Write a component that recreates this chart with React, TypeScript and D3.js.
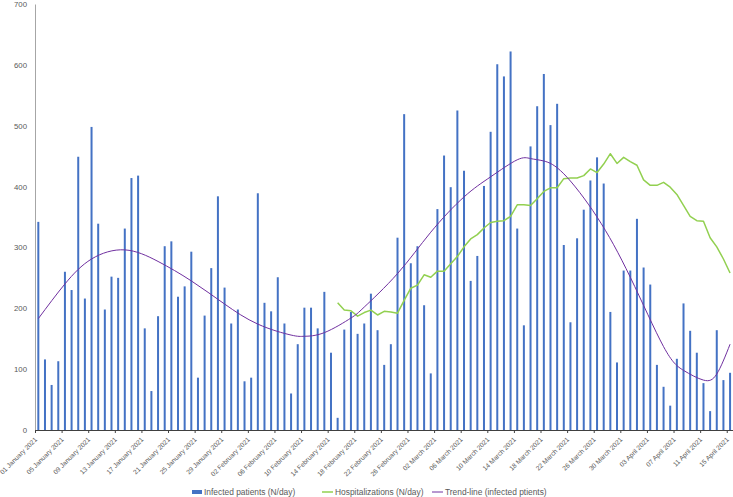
import { useEffect, useRef } from 'react';
import * as d3 from 'd3';

const WIDTH = 733;
const HEIGHT = 497;
const FONT = '"Liberation Sans", Arial, sans-serif';

const START_DATE = new Date(2021, 0, 1);
const END_DATE = new Date(2021, 3, 16); // exclusive
const days = d3.timeDay.range(START_DATE, END_DATE);

// Infected patients (N/day), 01 Jan .. 15 Apr 2021
const infected = [
  342, 116, 74, 113, 260, 230, 449, 216, 498, 339,
  198, 252, 250, 331, 414, 418, 167, 64, 187, 302,
  310, 219, 236, 293, 86, 188, 266, 384, 234, 175,
  198, 80, 86,
  389, 209, 195, 251, 175, 60, 141, 201, 201, 167,
  227, 127, 20, 165, 194, 158, 175, 224, 164, 107,
  141, 316, 519, 274, 302, 205, 93, 363, 451, 399,
  525, 426, 245, 286, 401, 490,
  601, 581, 622, 331, 172, 466, 532, 585, 501, 536,
  304, 177, 315, 362, 410, 448, 405, 194, 111, 262,
  262, 347, 267, 239, 107, 71, 40, 117, 208, 163,
  127, 77, 31, 164, 82, 94,
];

// Hospitalizations (N/day), starting 15 Feb 2021 (day index 45)
const HOSP_START = 45;
const hospitalizations = [
  209, 197, 196, 187, 193, 197, 189, 195, 194, 192,
  213, 233, 238, 255, 251, 261, 261, 273, 285, 301,
  314, 321, 332, 341, 343, 344, 351, 370, 370, 369,
  380, 392, 398, 398, 413, 414, 414, 418, 429, 423,
  437, 454, 438, 448, 441, 435, 411, 402, 402, 407,
  399, 387, 369, 351, 344, 343, 316, 301, 281, 258,
];

// Trend-line: [day index, value]
const trendDays = [0, 4, 8, 13, 18, 23, 28, 33, 38, 40, 43, 47, 49, 54, 59, 64, 68, 72, 74, 76, 79, 84, 89, 94, 97, 100, 102, 104];
const trendValues = [183, 240, 281, 296, 277, 245, 207, 174, 156, 154, 160, 184, 202, 257, 325, 383, 416, 444, 446, 442, 421, 350, 251, 137, 98, 82, 92, 141];

const yTicks = [0, 100, 200, 300, 400, 500, 600, 700];

const BAR_COLOR = '#4472C4';
const HOSP_COLOR = '#92D050';
const TREND_COLOR = '#7030A0';
const TEXT_COLOR = '#595959';

export default function App() {
  const svgRef = useRef<SVGSVGElement>(null);

  useEffect(() => {
    if (!svgRef.current) return;
    const svg = d3.select(svgRef.current);
    svg.selectAll('*').remove();

    const x = d3.scaleLinear().domain([0, days.length]).range([35, 733.4]);
    const y = d3.scaleLinear().domain([0, 700]).range([430, 4]);
    const barW = 2;

    // y axis
    const yAxis = svg.append('g').attr('transform', 'translate(35,0)')
      .call(d3.axisLeft(y).tickValues(yTicks).tickSize(0).tickPadding(8));
    yAxis.select('.domain').attr('stroke', '#A6A6A6');
    yAxis.selectAll('text')
      .attr('fill', TEXT_COLOR)
      .attr('font-family', FONT)
      .attr('font-size', 7.8);

    // bars
    svg.append('g')
      .selectAll('rect')
      .data(infected)
      .join('rect')
      .attr('x', (_, i) => x(i + 0.5) - barW / 2)
      .attr('y', (d) => y(d))
      .attr('width', barW)
      .attr('height', (d) => y(0) - y(d))
      .attr('fill', BAR_COLOR);

    // x axis
    const fmt = d3.timeFormat('%d %B %Y');
    const tickIdx = d3.range(0, days.length, 4);
    const xAxis = svg.append('g').attr('transform', 'translate(0,430)')
      .call(d3.axisBottom(x).tickValues(tickIdx).tickSize(3).tickSizeOuter(0)
        .tickFormat((d) => fmt(days[d as number])));
    xAxis.select('.domain').attr('stroke', '#404040');
    xAxis.selectAll('line').attr('stroke', '#404040');
    xAxis.selectAll('text')
      .attr('fill', TEXT_COLOR)
      .attr('font-family', FONT)
      .attr('font-size', 6.6)
      .attr('text-anchor', 'end')
      .attr('dy', 0)
      .attr('y', 0)
      .attr('transform', 'translate(2,10) rotate(-45)');

    // hospitalizations
    const hospLine = d3.line<number>()
      .x((_, i) => x(HOSP_START + i + 0.5))
      .y((d) => y(d));
    svg.append('path')
      .datum(hospitalizations)
      .attr('d', hospLine)
      .attr('fill', 'none')
      .attr('stroke', HOSP_COLOR)
      .attr('stroke-width', 1.5)
      .attr('stroke-linejoin', 'round');

    // trend-line
    const trendLine = d3.line<number>()
      .x((_, i) => x(trendDays[i] + 0.5))
      .y((d) => y(d))
      .curve(d3.curveNatural);
    svg.append('path')
      .datum(trendValues)
      .attr('d', trendLine)
      .attr('fill', 'none')
      .attr('stroke', TREND_COLOR)
      .attr('stroke-width', 1);

    // legend
    const legend = svg.append('g').attr('font-family', FONT).attr('font-size', 8.4).attr('fill', TEXT_COLOR);
    legend.append('rect').attr('x', 192).attr('y', 490).attr('width', 10).attr('height', 4).attr('fill', BAR_COLOR);
    legend.append('text').attr('x', 204).attr('y', 495).text('Infected patients (N/day)');
    legend.append('line').attr('x1', 322).attr('x2', 333).attr('y1', 492).attr('y2', 492)
      .attr('stroke', HOSP_COLOR).attr('stroke-width', 1.5);
    legend.append('text').attr('x', 335).attr('y', 495).text('Hospitalizations (N/day)');
    legend.append('line').attr('x1', 432).attr('x2', 443).attr('y1', 492).attr('y2', 492)
      .attr('stroke', TREND_COLOR).attr('stroke-width', 1);
    legend.append('text').attr('x', 445).attr('y', 495).text('Trend-line (infected ptients)');
  }, []);

  return (
    <svg
      ref={svgRef}
      width={WIDTH}
      height={HEIGHT}
      style={{ position: 'absolute', left: 0, top: 0, background: '#fff' }}
    />
  );
}
